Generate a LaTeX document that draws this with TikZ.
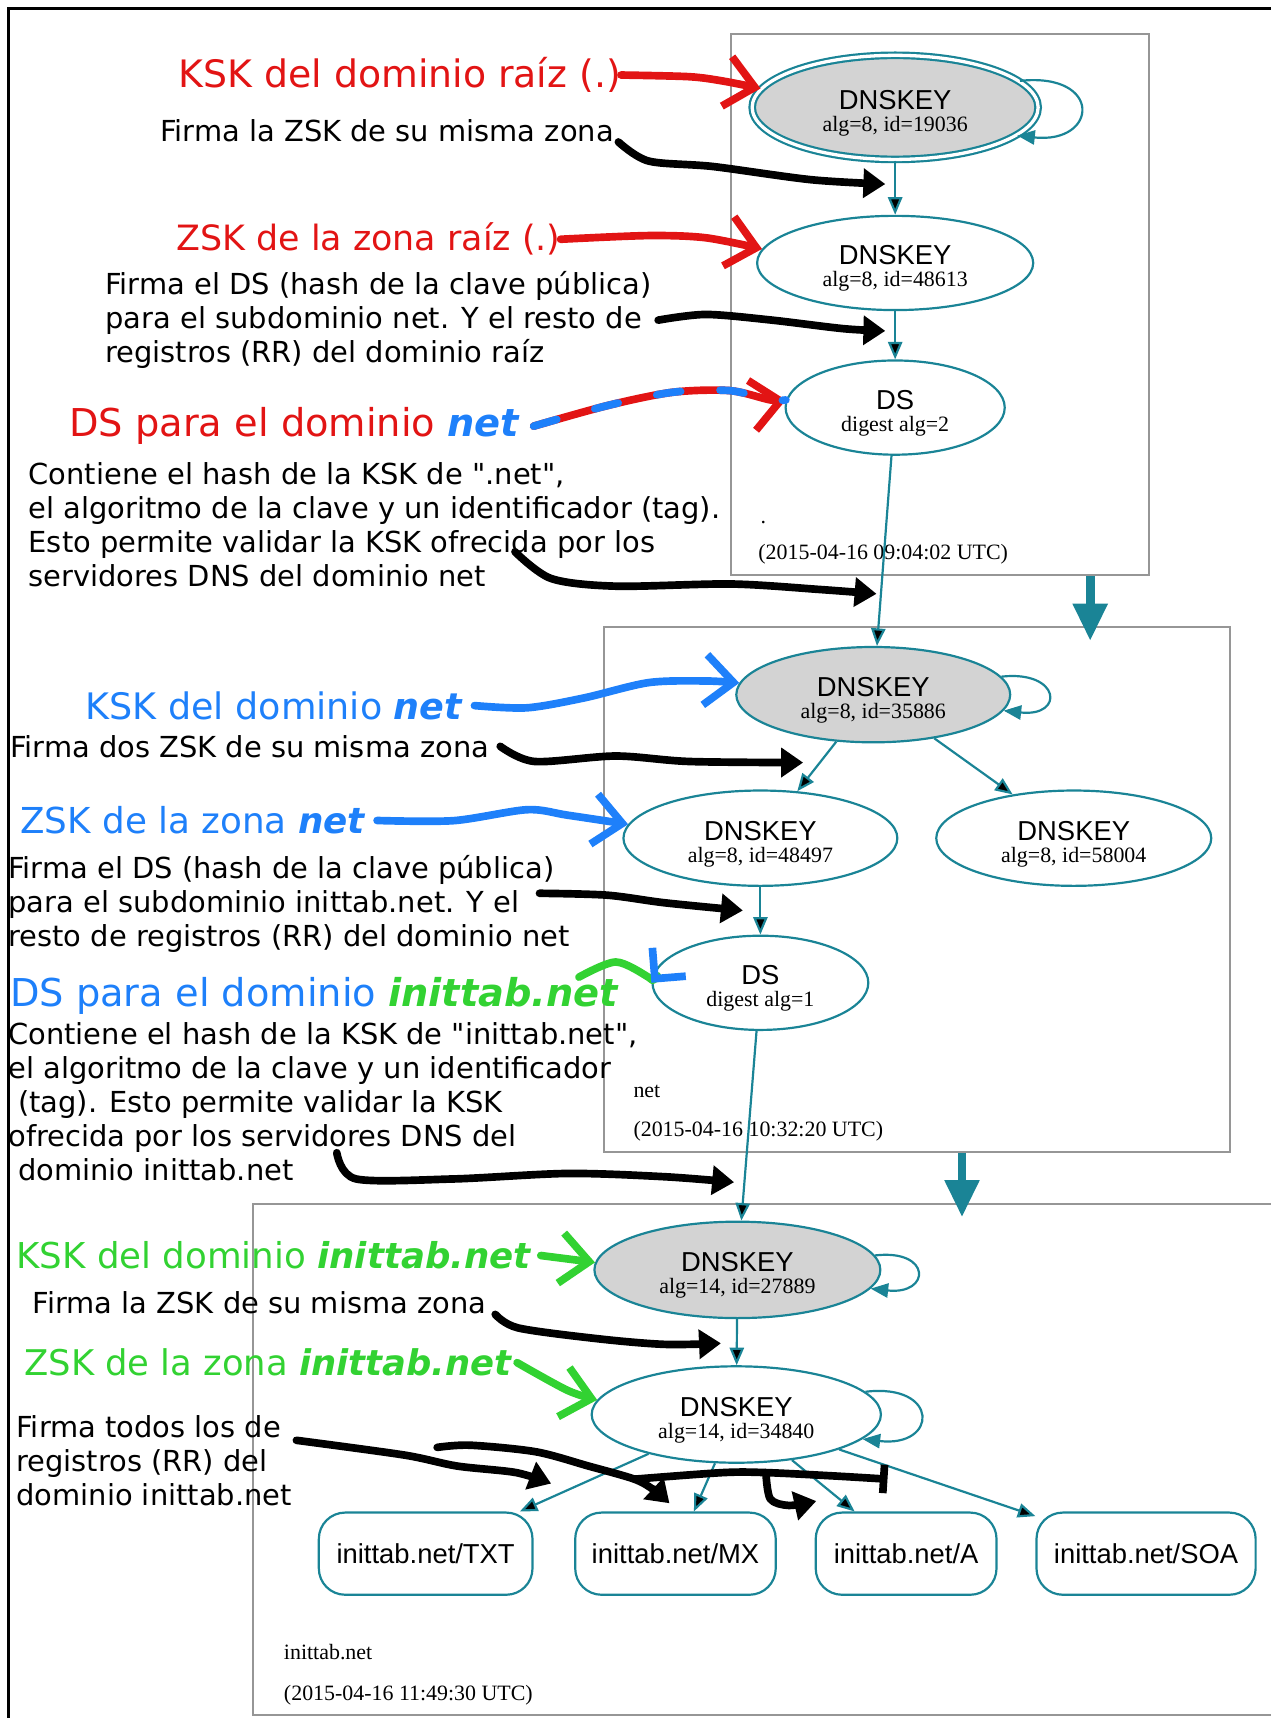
\documentclass[tikz,border=0pt]{standalone}
\usepackage{fontspec}
\setmainfont{Liberation Serif}
\setsansfont{Liberation Sans}
\newfontfamily\penfont{DejaVu Sans}
\usetikzlibrary{shapes.geometric, arrows.meta, positioning}

\definecolor{penred}{RGB}{226,20,20}
\definecolor{penblue}{RGB}{30,128,250}
\definecolor{pengreen}{RGB}{50,210,50}
\definecolor{gvteal}{RGB}{26,132,150}
\definecolor{gvgray}{RGB}{211,211,211}
\definecolor{boxgray}{RGB}{150,150,150}

\newcommand{\keylab}[2]{\rule{0pt}{28pt}{\sffamily\fontsize{25}{20}\selectfont #1}\\#2}
\newcommand{\penat}[1]{\penfont\fontsize{#1}{31}\selectfont}
\newcommand{\kw}[1]{\textbf{\textit{#1}}}

\tikzset{
  dnskey/.style={ellipse, draw=gvteal, line width=2pt, inner sep=0pt, align=center,
    font=\fontsize{20}{20}\selectfont},
  ksk/.style={dnskey, fill=gvgray},
  rec/.style={rectangle, draw=gvteal, line width=2pt, rounded corners=24pt,
    minimum height=75pt, inner sep=0pt, font=\sffamily\fontsize{25}{25}\selectfont},
  cluster/.style={draw=boxgray, line width=2pt, inner sep=0pt},
  gvtext/.style={anchor=base west, inner sep=0pt, font=\fontsize{20}{20}\selectfont},
  gedge/.style={draw=gvteal, line width=2pt, -{Triangle[length=16pt,width=13pt]}},
  hop/.style={draw=gvteal, line width=8pt, -{Triangle[length=34pt,width=30pt]}},
  pentitle/.style={anchor=base west, inner sep=0pt, font=\penat{#1}},
  % base west of a multi-line note is the baseline of its last line
  pennote/.style={anchor=base west, inner sep=0pt, align=left, font=\penat{26.4}},
  pen/.style={line width=7pt, line cap=round, line join=round},
  blackpen/.style={pen, black, -{Triangle[length=20pt,width=26pt]}},
  chevron/.style={pen, -{Straight Barb[length=26pt,width=46pt]}},
}

\begin{document}
\begin{tikzpicture}[x=1pt, y=-1pt]
\useasboundingbox (0,0) rectangle (1160,1568);
\draw[line width=2.5pt] (8,1568) -- (8,7.5) -- (1160,7.5);

% zones
\node[cluster, minimum width=382pt, minimum height=494pt] (rootbox) at (858,278) {};
\node[cluster, minimum width=571pt, minimum height=479pt] (netbox) at (837,812) {};
\draw[boxgray, line width=2pt] (1160,1099) -- (231,1099) -- (231,1565) -- (1160,1565);

% root zone
\node[ksk, double=white, double distance=3pt, minimum width=261pt, minimum height=95pt] (rk) at (817,98) {\keylab{DNSKEY}{alg=8, id=19036}};
\node[dnskey, minimum width=252pt, minimum height=86pt] (rz) at (817,240) {\keylab{DNSKEY}{alg=8, id=48613}};
\node[dnskey, minimum width=200pt, minimum height=86pt] (rd) at (817,372) {\keylab{DS}{digest alg=2}};
\node[gvtext] (rootname) at (694,478) {.};
\node[gvtext] (roottime) at (692,511) {(2015-04-16 09:04:02 UTC)};

% net zone
\node[ksk, minimum width=250pt, minimum height=87pt] (nk) at (797,634) {\keylab{DNSKEY}{alg=8, id=35886}};
\node[dnskey, minimum width=250pt, minimum height=87pt] (nz1) at (694,765) {\keylab{DNSKEY}{alg=8, id=48497}};
\node[dnskey, minimum width=251pt, minimum height=87pt] (nz2) at (980,765) {\keylab{DNSKEY}{alg=8, id=58004}};
\node[dnskey, minimum width=197pt, minimum height=86pt] (nd) at (694,897) {\keylab{DS}{digest alg=1}};
\node[gvtext] (netname) at (578,1002) {net};
\node[gvtext] (nettime) at (578,1037) {(2015-04-16 10:32:20 UTC)};

% inittab.net zone
\node[ksk, minimum width=261pt, minimum height=88pt] (ik) at (673,1159) {\keylab{DNSKEY}{alg=14, id=27889}};
\node[dnskey, minimum width=264pt, minimum height=88pt] (iz) at (672,1291) {\keylab{DNSKEY}{alg=14, id=34840}};
\node[rec, minimum width=195pt] (txt) at (388.5,1418) {inittab.net/TXT};
\node[rec, minimum width=183pt] (mx) at (616.5,1418) {inittab.net/MX};
\node[rec, minimum width=165pt] (arec) at (827,1418) {inittab.net/A};
\node[rec, minimum width=200pt] (soa) at (1046,1418) {inittab.net/SOA};
\node[gvtext] (initname) at (259,1515) {inittab.net};
\node[gvtext] (inittime) at (259,1552) {(2015-04-16 11:49:30 UTC)};

\path[gedge]
  (rk) edge (rz)
  (rz) edge (rd)
  (rd) edge (nk)
  (nk) edge (nz1)
  (nk) edge (nz2)
  (nz1) edge (nd)
  (nd) edge (ik)
  (ik) edge (iz)
  (iz) edge (txt)
  (iz) edge (mx)
  (iz) edge (arec)
  (iz) edge (soa);

\draw[gedge] (rk.12) .. controls +(76,-8) and +(74,8) .. (rk.-13);
\draw[gedge] (nk.8) .. controls +(54,-6) and +(56,6) .. (nk.-7);
\draw[gedge] (ik.6) .. controls +(52,-6) and +(55,6) .. (ik.-8);
\draw[gedge] (iz.10) .. controls +(68,-8) and +(69,8) .. (iz.-11);

\coordinate (rootout) at (995,526);
\coordinate (netin) at (995,585);
\coordinate (netout) at (878,1052);
\coordinate (initin) at (878,1111);
\draw[hop] (rootout) -- (netin);
\draw[hop] (netout) -- (initin);

% notes
\node[pentitle=34.5, text=penred] (kskroot) at (163,80) {KSK del dominio raíz (.)};
\node[pennote] (kskrootnote) at (146,129) {Firma la ZSK de su misma zona};
\node[pentitle=31.8, text=penred] (zskroot) at (161,229) {ZSK de la zona raíz (.)};
\node[pennote] (zskrootnote) at (96,331) {Firma el DS (hash de la clave pública)\\para el subdominio net. Y el resto de\\registros (RR) del dominio raíz};
\node[pentitle=35, text=penred] (dsroot) at (63,398.6) {DS para el dominio \textcolor{penblue}{\kw{net}}};
\node[pennote] (dsrootnote) at (26,535) {Contiene el hash de la KSK de ".net",\\el algoritmo de la clave y un identificador (tag).\\Esto permite validar la KSK ofrecida por los\\servidores DNS del dominio net};

\node[pentitle=33.3, text=penblue] (ksknet) at (78,656.4) {KSK del dominio \kw{net}};
\node[pennote] (ksknetnote) at (9,691) {Firma dos ZSK de su misma zona};
\node[pentitle=32.6, text=penblue] (zsknet) at (18.5,761) {ZSK de la zona \kw{net}};
\node[pennote] (zsknetnote) at (7.4,863.6) {Firma el DS (hash de la clave pública)\\para el subdominio inittab.net. Y el\\resto de registros (RR) del dominio net};
\node[pentitle=35, text=penblue] (dsnet) at (9,918.6) {DS para el dominio \textcolor{pengreen}{\kw{inittab.net}}};
\node[pennote] (dsnetnote) at (7.4,1077.5) {Contiene el hash de la KSK de "inittab.net",\\el algoritmo de la clave y un identificador\\\hspace{9pt}(tag). Esto permite validar la KSK\\ofrecida por los servidores DNS del\\\hspace{9pt}dominio inittab.net};

\node[pentitle=32.5, text=pengreen] (kskinit) at (14.8,1158) {KSK del dominio \kw{inittab.net}};
\node[pennote] (kskinitnote) at (29.6,1199) {Firma la ZSK de su misma zona};
\node[pentitle=32.3, text=pengreen] (zskinit) at (22,1255.7) {ZSK de la zona \kw{inittab.net}};
\node[pennote] (zskinitnote) at (14.8,1373.8) {Firma todos los de\\registros (RR) del\\dominio inittab.net};

% pen strokes
\coordinate (p1) at (808,168);
\coordinate (p2) at (808,302);
\coordinate (p3) at (800,542);
\coordinate (p4) at (733,696);
\coordinate (p5) at (678,831);
\coordinate (p6) at (670,1079);
\coordinate (p7) at (658,1226);
\coordinate (p8a) at (503,1354);
\coordinate (p8b) at (611,1372);
\coordinate (p8c) at (745,1370);
\coordinate (p8d) at (810,1350);
\coordinate (fork1) at (399,1321);
\coordinate (fork2) at (579,1350);
\coordinate (fork3) at (699,1344);

\draw[chevron, penred] plot[smooth] coordinates {(kskroot.east) (629,70) (660,74) (rk.172)};
\draw[chevron, penred] plot[smooth] coordinates {(zskroot.east) (592,215) (644,217) (rz.174)};
\draw[chevron, penred] plot[smooth] coordinates {([xshift=12pt]dsroot.east) (555,370) (614,358) (666,356.5) (703,365) (rd.176)};
\draw[pen, penblue, dash pattern=on 22pt off 36pt] plot[smooth] coordinates {([xshift=12pt]dsroot.east) (555,370) (614,358) (666,356.5) (703,365) (rd.176)};
\draw[chevron, penblue] plot[smooth] coordinates {([xshift=10pt]ksknet.east) (481,646) (533,637) (592,623) (644,621.5) (nk.175)};
\draw[chevron, penblue] plot[smooth] coordinates {([xshift=10pt]zsknet.east) (414,749) (481,739) (518,744) (nz1.174)};
\draw[pen, pengreen, -{Straight Barb[length=20pt,width=40pt,color=penblue]}] plot[smooth] coordinates {([xshift=-37pt]dsnet.north east) (562,878) (592,892) (nd.west)};
\draw[chevron, pengreen] ([xshift=8pt]kskinit.east) -- (ik.177);
\draw[chevron, pengreen] plot[smooth] coordinates {([xshift=4pt]zskinit.east) (518,1269) (iz.174)};

\draw[blackpen] plot[smooth] coordinates {([xshift=4pt]kskrootnote.south east) (592,147) (651,152) (740,164) (p1)};
\draw[blackpen] plot[smooth] coordinates {([xshift=6pt]zskrootnote.east) (644,287) (703,292) (770,300) (p2)};
\draw[blackpen] plot[smooth] coordinates {([shift={(444,-32)}]dsrootnote.south west) (503,528) (562,535) (667,533) (748,538) (p3)};
\draw[blackpen] plot[smooth] coordinates {([xshift=10pt]ksknetnote.east) (488,695) (562,690) (629,695) (p4)};
\draw[blackpen] plot[smooth] coordinates {([shift={(485,35)}]zsknetnote.north west) (554,817) (607,824) (p5)};
\draw[blackpen] plot[smooth] coordinates {([shift={(300,-26)}]dsnetnote.south west) (325,1076) (414,1076) (518,1071) (607,1074) (p6)};
\draw[blackpen] plot[smooth] coordinates {([xshift=8pt]kskinitnote.south east) (473,1212) (547,1222) (607,1227) (p7)};
\draw[blackpen] plot[smooth] coordinates {([shift={(4,23)}]zskinitnote.north east) (369,1328) (417,1338) (471,1344) (p8a)};
\draw[blackpen] plot[smooth] coordinates {(fork1) (429,1319) (489,1325) (537,1338) (579,1350) (597,1360) (p8b)};
\draw[blackpen] plot[smooth] coordinates {(fork3) (703,1368) (720,1374) (p8c)};
\draw[pen, -{Bar[width=26pt]}] plot[smooth] coordinates {(fork2) (660,1344) (699,1344) (760,1347) (p8d)};
\end{tikzpicture}
\end{document}
